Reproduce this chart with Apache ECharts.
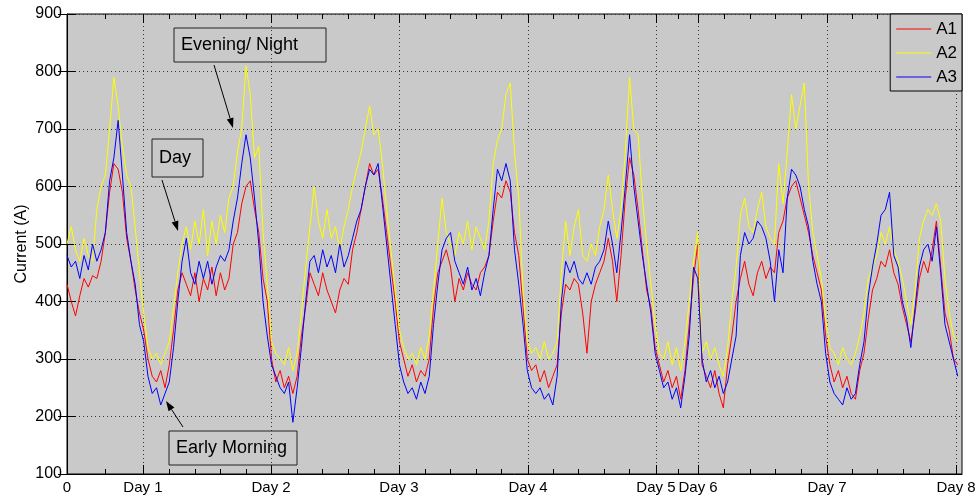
<!DOCTYPE html>
<html><head><meta charset="utf-8">
<script src="https://cdn.jsdelivr.net/npm/echarts@6/dist/echarts.min.js"></script>
<style>html,body{margin:0;padding:0;background:#fff}#c{width:980px;height:500px}</style>
</head><body><div id="c"></div>
<script>
// ---- data ----
const samplesPerUnit = 6;
const xMin = 0, xMax = 35;
const xMajorTicks = [0, 2.97, 7.98, 12.98, 18.03, 23.03, 24.68, 29.72, 34.77];
const xMajorLabels = ['0', 'Day 1', 'Day 2', 'Day 3', 'Day 4', 'Day 5', 'Day 6', 'Day 7', 'Day 8'];
const xMinorTicks = [1.49, 4, 5, 6, 7, 9, 10, 11, 12, 14, 15, 16, 17, 19, 20, 21, 22, 23.9, 25.7, 26.7, 27.7, 28.7, 30.7, 31.7, 32.7, 33.7];
const yMin = 100, yMax = 900, yStep = 100;
const seriesNames = ['A1', 'A2', 'A3'];
const seriesColors = ['#ff0000', '#ffff00', '#0000ff'];
const a1 = [
430,400,375,410,440,425,445,440,470,520,
590,640,630,590,510,470,420,380,350,300,
270,260,280,250,290,350,420,450,430,410,
450,400,440,420,460,410,450,420,440,500,
520,570,600,610,560,520,440,400,300,260,
280,250,270,240,270,340,390,450,430,410,
450,420,400,380,420,440,430,490,520,560,
600,640,620,630,580,520,460,400,330,300,
270,290,260,280,270,300,390,450,470,490,
460,400,440,420,450,430,420,450,460,480,
540,590,580,610,590,520,480,390,300,280,
290,260,280,250,270,290,380,430,420,440,
430,380,310,400,430,450,470,510,470,400,
480,580,650,620,560,490,420,390,320,290,
260,280,250,270,230,280,360,440,500,290,
270,250,280,240,215,290,340,400,440,470,
430,410,450,470,440,460,450,520,540,580,
600,610,580,550,520,480,450,420,340,290,
260,280,250,270,240,230,280,310,370,420,
440,470,460,490,450,430,390,360,330,380,
440,470,450,490,540,460,380,350,300,290];
const a2 = [
500,530,490,470,510,480,470,560,600,620,
700,790,740,670,620,600,530,450,380,320,
300,310,290,310,330,390,450,500,530,490,
540,500,560,480,540,500,550,520,580,600,
660,700,810,760,650,670,520,430,330,310,
300,290,320,280,310,380,460,530,600,540,
510,560,510,530,490,530,560,600,630,660,
700,740,690,700,640,560,490,420,350,320,
300,310,290,320,300,340,420,500,580,520,
500,480,520,500,540,490,530,510,490,540,
640,680,700,760,780,660,580,420,330,310,
320,300,330,300,310,330,450,540,480,530,
560,480,470,500,480,530,560,620,560,510,
560,660,790,700,690,580,500,430,360,310,
300,330,290,320,280,330,400,470,520,310,
330,300,320,290,270,320,400,460,550,580,
530,520,560,590,530,510,500,640,570,660,
760,700,740,780,600,520,480,440,370,320,
310,290,320,300,290,310,340,380,440,460,
480,520,500,530,490,470,440,400,360,420,
510,540,560,550,570,540,440,380,340,330];
const a3 = [
480,460,470,440,480,455,500,470,490,520,
610,650,715,620,520,470,430,360,330,270,
240,250,220,240,260,320,400,470,510,450,
430,470,440,470,430,460,480,470,490,540,
580,640,690,650,580,500,400,340,290,270,
250,240,260,190,250,320,400,470,480,450,
490,460,480,450,500,460,480,510,540,560,
600,630,620,640,570,500,430,360,290,260,
240,250,230,260,240,270,360,430,490,510,
520,470,450,430,460,420,440,410,450,480,
560,630,610,640,610,490,430,360,280,250,
240,250,230,240,220,270,400,470,450,470,
440,430,450,430,460,470,490,540,500,450,
520,600,690,600,540,480,430,380,310,280,
250,260,230,250,215,270,340,460,440,300,
260,280,250,270,240,260,300,340,480,520,
500,510,540,530,510,470,400,490,450,580,
630,620,600,560,530,470,430,400,310,260,
240,230,220,250,230,240,290,330,410,460,
500,550,560,590,480,460,400,370,320,390,
460,490,500,470,530,450,360,330,300,270];
const allSeries = [a1, a2, a3];

// ---- chart ----
const FONT = '"Liberation Sans", Arial, Helvetica, sans-serif';
const BG = '#c9c9c9';
const chart = echarts.init(document.getElementById('c'), null, {renderer: 'canvas'});

function baseX(pos, ticks, len, opts) {
  return Object.assign({
    type: 'value', min: xMin, max: xMax, position: pos, gridIndex: 0,
    axisLine: {show: false},
    axisTick: {show: true, inside: true, length: len, customValues: ticks, lineStyle: {color: '#000', width: 1}},
    axisLabel: {show: false},
    splitLine: {show: false}
  }, opts || {});
}

function arrow(x1, y1, x2, y2) {
  const dx = x2 - x1, dy = y2 - y1, L = Math.sqrt(dx*dx + dy*dy);
  const ux = dx / L, uy = dy / L, hl = 10, hw = 3.5;
  const bx = x2 - ux*hl, by = y2 - uy*hl;
  return [
    {type: 'line', shape: {x1: x1, y1: y1, x2: bx, y2: by}, style: {stroke: '#000', lineWidth: 1}, z: 100},
    {type: 'polygon', shape: {points: [[x2, y2], [bx - uy*hw, by + ux*hw], [bx + uy*hw, by - ux*hw]]}, style: {fill: '#000'}, z: 100}
  ];
}
function box(x, y, w, h, text) {
  return [
    {type: 'rect', shape: {x: x, y: y, width: w, height: h}, style: {fill: 'none', stroke: '#222', lineWidth: 1}, z: 100},
    {type: 'text', x: x + 7, y: y + h/2, style: {text: text, fill: '#000', font: '18px ' + FONT, textVerticalAlign: 'middle'}, z: 100}
  ];
}

const graphics = [].concat(
  box(174, 28, 152, 34, 'Evening/ Night'), arrow(214, 65, 233, 128),
  box(152, 139, 51, 38, 'Day'), arrow(162, 180, 178, 231),
  box(169, 431, 128, 34, 'Early Morning'), arrow(183, 427, 166, 401)
);

const option = {
  animation: false,
  backgroundColor: '#fff',
  textStyle: {fontFamily: FONT},
  grid: {left: 67, top: 14, right: 18, bottom: 26, show: true, backgroundColor: BG, borderColor: '#000', borderWidth: 1, containLabel: false, outerBoundsMode: 'none'},
  legend: {
    data: seriesNames, orient: 'vertical', right: 18, top: 14,
    icon: 'rect',
    backgroundColor: BG, borderColor: '#000', borderWidth: 1, borderRadius: 0,
    padding: [6, 5, 5, 6], itemWidth: 35, itemHeight: 1, itemGap: 6,
    textStyle: {fontSize: 17, color: '#000', fontFamily: FONT, lineHeight: 18}
  },
  xAxis: [
    baseX('bottom', xMajorTicks, 9, {
      axisLine: {show: true, lineStyle: {color: '#000'}},
      axisLabel: {show: true, customValues: xMajorTicks, color: '#000', fontSize: 15, margin: 6,
        formatter: function (v) { const k = xMajorTicks.findIndex(t => Math.abs(t - v) < 1e-6); return k >= 0 ? xMajorLabels[k] : ''; }},
      splitLine: {show: true, lineStyle: {color: '#333', type: [1, 3], width: 1}}
    }),
    baseX('bottom', xMinorTicks, 5),
    baseX('top', xMajorTicks, 9),
    baseX('top', xMinorTicks, 5)
  ],
  yAxis: [
    {type: 'value', min: yMin, max: yMax, interval: yStep, position: 'left',
      name: 'Current (A)', nameLocation: 'middle', nameGap: 37, nameRotate: 90, nameMoveOverlap: false,
      nameTextStyle: {fontSize: 16, color: '#000', fontFamily: FONT},
      axisLine: {show: true, lineStyle: {color: '#000'}},
      axisTick: {show: true, inside: true, length: 9, lineStyle: {color: '#000'}},
      axisLabel: {color: '#000', fontSize: 16, margin: 5},
      splitLine: {show: true, lineStyle: {color: '#333', type: [1, 3], width: 1}}
    },
    {type: 'value', min: yMin, max: yMax, interval: yStep, position: 'right',
      axisLine: {show: false}, axisLabel: {show: false}, splitLine: {show: false},
      axisTick: {show: true, inside: true, length: 9, lineStyle: {color: '#000'}}
    }
  ],
  series: allSeries.map((arr, s) => ({
    name: seriesNames[s], type: 'line', xAxisIndex: 0, yAxisIndex: 0,
    symbol: 'none', showSymbol: false,
    lineStyle: {color: seriesColors[s], width: 1},
    itemStyle: {color: seriesColors[s]},
    data: arr.map((v, i) => [i / samplesPerUnit, v])
  })),
  graphic: graphics
};
chart.setOption(option);
</script></body></html>
